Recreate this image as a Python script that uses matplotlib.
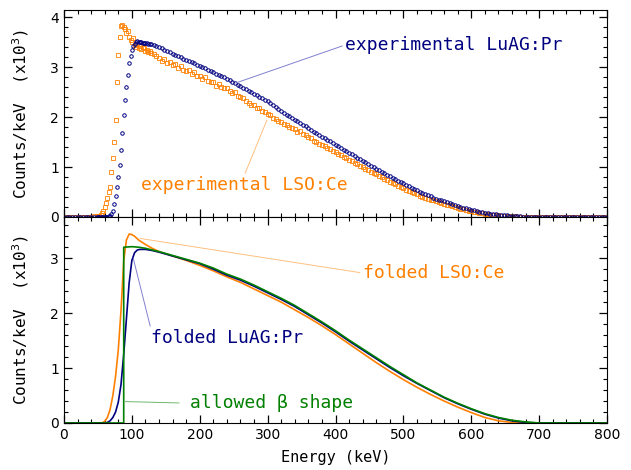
import numpy as np
import matplotlib
matplotlib.use("Agg")
import matplotlib.pyplot as plt
from matplotlib.ticker import MultipleLocator

# ---- experimental spectra (counts/keV x10^3) ----
# energy bins: 4 keV below 50, 2 keV from 50 to 128, 4 keV above
energy_exp = np.concatenate([np.arange(0, 49, 4), np.arange(50, 129, 2), np.arange(132, 801, 4)])

luag_exp = [
    0, 0, 0, 0, 0, 0, 0, 0, 0, 0, 0, 0, 0,
    # 50 .. 128 (2 keV)
    0, 0, 0, 0, 0, 0, 0, 0, 0.01, 0.02,
    0.05, 0.12, 0.25, 0.42, 0.60, 0.80, 1.05, 1.35, 1.68, 2.05,
    2.34, 2.60, 2.85, 3.08, 3.22, 3.34, 3.42, 3.47, 3.51, 3.52,
    3.51, 3.50, 3.50, 3.49, 3.49, 3.48, 3.48, 3.47, 3.47, 3.46,
    # 132 .. 800 (4 keV)
    3.44, 3.42, 3.41, 3.38, 3.35, 3.33, 3.30, 3.27,
    3.25, 3.22, 3.20, 3.17, 3.15, 3.13, 3.10, 3.08,
    3.05, 3.03, 3.00, 2.98, 2.95, 2.93, 2.90, 2.87,
    2.85, 2.82, 2.80, 2.77, 2.74, 2.71, 2.68, 2.65,
    2.62, 2.59, 2.56, 2.53, 2.50, 2.47, 2.44, 2.41,
    2.38, 2.35, 2.32, 2.28, 2.24, 2.20, 2.16, 2.12,
    2.09, 2.05, 2.02, 1.98, 1.95, 1.92, 1.88, 1.85,
    1.82, 1.78, 1.75, 1.71, 1.68, 1.65, 1.61, 1.58,
    1.55, 1.52, 1.48, 1.45, 1.42, 1.38, 1.35, 1.32,
    1.29, 1.26, 1.22, 1.19, 1.16, 1.13, 1.10, 1.06,
    1.03, 1.00, 0.97, 0.94, 0.91, 0.88, 0.85, 0.82,
    0.79, 0.76, 0.73, 0.70, 0.68, 0.65, 0.62, 0.59,
    0.56, 0.54, 0.51, 0.49, 0.46, 0.44, 0.42, 0.39,
    0.37, 0.35, 0.33, 0.31, 0.29, 0.27, 0.25, 0.23,
    0.22, 0.20, 0.18, 0.17, 0.15, 0.14, 0.13, 0.12,
    0.10, 0.09, 0.08, 0.07, 0.065, 0.06, 0.05, 0.045,
    0.04, 0.035, 0.03, 0.025, 0.02, 0.015, 0.012, 0.01,
    0.008, 0.005, 0.004, 0.003, 0.002, 0.001, 0, 0,
    0, 0, 0, 0, 0, 0, 0, 0,
    0, 0, 0, 0, 0, 0, 0, 0,
    0, 0, 0, 0, 0, 0, 0, 0,
]

lso_exp = [
    0, 0, 0, 0, 0, 0, 0, 0, 0, 0, 0, 0.01, 0.01,
    # 50 .. 128 (2 keV)
    0.01, 0.02, 0.04, 0.07, 0.12, 0.20, 0.28, 0.38, 0.50, 0.60,
    0.90, 1.18, 1.50, 1.95, 2.70, 3.24, 3.60, 3.82, 3.85, 3.80,
    3.76, 3.68, 3.72, 3.60, 3.55, 3.50, 3.58, 3.44, 3.40, 3.47,
    3.38, 3.42, 3.36, 3.40, 3.39, 3.33, 3.35, 3.31, 3.32, 3.28,
    # 132 .. 800 (4 keV)
    3.26, 3.22, 3.19, 3.12, 3.16, 3.09, 3.10, 3.05,
    3.06, 2.99, 3.02, 2.95, 2.93, 2.94, 2.87, 2.90,
    2.82, 2.83, 2.76, 2.80, 2.73, 2.70, 2.71, 2.63,
    2.67, 2.60, 2.58, 2.59, 2.52, 2.49, 2.50, 2.43,
    2.40, 2.38, 2.33, 2.28, 2.25, 2.24, 2.19, 2.18,
    2.12, 2.10, 2.06, 2.04, 1.98, 1.97, 1.93, 1.90,
    1.86, 1.85, 1.80, 1.78, 1.76, 1.70, 1.72, 1.66,
    1.64, 1.60, 1.58, 1.52, 1.51, 1.47, 1.45, 1.42,
    1.38, 1.36, 1.33, 1.30, 1.27, 1.24, 1.20, 1.18,
    1.14, 1.12, 1.08, 1.06, 1.02, 1.00, 0.96, 0.95,
    0.90, 0.88, 0.86, 0.82, 0.80, 0.77, 0.75, 0.71,
    0.69, 0.66, 0.63, 0.60, 0.58, 0.55, 0.53, 0.50,
    0.48, 0.46, 0.43, 0.41, 0.39, 0.37, 0.35, 0.33,
    0.31, 0.29, 0.28, 0.26, 0.24, 0.23, 0.21, 0.19,
    0.18, 0.16, 0.15, 0.13, 0.12, 0.11, 0.10, 0.09,
    0.08, 0.07, 0.06, 0.05, 0.045, 0.04, 0.035, 0.03,
    0.025, 0.02, 0.018, 0.015, 0.012, 0.01, 0.008, 0.006,
    0.005, 0.004, 0.003, 0.002, 0.001, 0, 0, 0,
    0, 0, 0, 0, 0, 0, 0, 0,
    0, 0, 0, 0, 0, 0, 0, 0,
    0, 0, 0, 0, 0, 0, 0, 0,
]

assert len(luag_exp) == len(energy_exp) and len(lso_exp) == len(energy_exp)

# ---- folded / calculated spectra ----
lso_fold_e = [0, 56, 60, 64, 68, 72, 76, 80, 84, 88, 92, 96, 100, 104, 110, 120, 130, 140,
              160, 180, 200, 220, 240, 260, 280, 300, 320, 340, 360, 380, 400, 420, 440,
              460, 480, 500, 520, 540, 560, 580, 600, 620, 640, 660, 680, 800]
lso_fold = [0, 0, 0.03, 0.10, 0.25, 0.50, 0.85, 1.33, 2.05, 2.95, 3.33, 3.44, 3.43, 3.40, 3.33,
            3.25, 3.18, 3.12, 3.04, 2.96, 2.87, 2.77, 2.66, 2.56, 2.44, 2.32, 2.20, 2.06, 1.92,
            1.77, 1.61, 1.44, 1.27, 1.10, 0.94, 0.79, 0.65, 0.52, 0.40, 0.29, 0.19, 0.10, 0.04,
            0.01, 0, 0]

luag_fold_e = [0, 60, 64, 68, 72, 76, 80, 84, 88, 92, 96, 100, 104, 108, 112, 120, 130, 140,
               160, 180, 200, 220, 240, 260, 280, 300, 320, 340, 360, 380, 400, 420, 440, 460,
               480, 500, 520, 540, 560, 580, 600, 620, 640, 660, 680, 700, 800]
luag_fold = [0, 0, 0.01, 0.04, 0.10, 0.20, 0.38, 0.70, 1.25, 1.90, 2.55, 2.96, 3.10, 3.15, 3.16,
             3.16, 3.14, 3.11, 3.04, 2.97, 2.90, 2.80, 2.69, 2.60, 2.49, 2.37, 2.25, 2.12, 1.97,
             1.82, 1.66, 1.49, 1.33, 1.17, 1.01, 0.86, 0.72, 0.59, 0.46, 0.35, 0.25, 0.16, 0.09,
             0.04, 0.01, 0, 0]

beta_e = [0, 88, 88, 100, 110, 120, 130, 140, 160, 180, 200, 220, 240, 260, 280, 300, 320, 340,
          360, 380, 400, 420, 440, 460, 480, 500, 520, 540, 560, 580, 600, 620, 640, 660, 680,
          700, 800]
beta = [0, 0, 3.20, 3.21, 3.20, 3.18, 3.15, 3.12, 3.05, 2.98, 2.91, 2.82, 2.71, 2.62, 2.51, 2.39,
        2.27, 2.14, 1.99, 1.84, 1.68, 1.51, 1.35, 1.19, 1.03, 0.88, 0.73, 0.60, 0.47, 0.36, 0.26,
        0.17, 0.10, 0.05, 0.02, 0, 0]

navy = '#000080'
orange = '#ff8000'
green = '#008000'
mono = 'DejaVu Sans Mono'

fig = plt.figure(figsize=(6.31, 4.70), dpi=100)
ax1 = fig.add_axes([0.1014, 0.5383, 0.8606, 0.4404])
ax2 = fig.add_axes([0.1014, 0.1, 0.8606, 0.4383], sharex=ax1)

# top panel: experimental points
ax1.plot(energy_exp, lso_exp, ls='none', marker='s', ms=2.5, mfc='none', mec=orange, mew=0.6)
ax1.plot(energy_exp, luag_exp, ls='none', marker='o', ms=2.5, mfc='none', mec=navy, mew=0.7)
ax1.set_ylim(0, 4.14)

ax1.annotate('experimental LuAG:Pr', xy=(253, 2.68), xytext=(414, 3.44), color=navy,
             fontsize=13, family=mono, ha='left', va='center',
             arrowprops=dict(arrowstyle='-', color='#8080d0', lw=0.7, shrinkA=0, shrinkB=0,
                             relpos=(0, 0.5)))
ax1.annotate('experimental LSO:Ce', xy=(299, 1.94), xytext=(113, 0.64), color=orange,
             fontsize=13, family=mono, ha='left', va='center',
             arrowprops=dict(arrowstyle='-', color='#ffc080', lw=0.7, shrinkA=0, shrinkB=0,
                             relpos=(0.5, 1)))

# bottom panel: folded curves
ax2.plot(lso_fold_e, lso_fold, color=orange, lw=1.2)
ax2.plot(luag_fold_e, luag_fold, color=navy, lw=1.2)
ax2.plot(beta_e, beta, color=green, lw=1.2)
ax2.set_ylim(0, 3.75)

ax2.annotate('folded LSO:Ce', xy=(112, 3.36), xytext=(440, 2.73), color=orange,
             fontsize=13, family=mono, ha='left', va='center',
             arrowprops=dict(arrowstyle='-', color='#ffc080', lw=0.7, shrinkA=0, shrinkB=0,
                             relpos=(0, 0.5)))
ax2.annotate('folded LuAG:Pr', xy=(102, 3.0), xytext=(128, 1.55), color=navy,
             fontsize=13, family=mono, ha='left', va='center',
             arrowprops=dict(arrowstyle='-', color='#8080d0', lw=0.7, shrinkA=0, shrinkB=0,
                             relpos=(0, 1)))
ax2.annotate('allowed \u03b2 shape', xy=(90, 0.39), xytext=(186, 0.36), color=green,
             fontsize=13, family=mono, ha='left', va='center',
             arrowprops=dict(arrowstyle='-', color='#70b870', lw=0.7, shrinkA=6, shrinkB=0,
                             relpos=(0, 0.5)))

ax2.set_xlim(0, 800)
ax2.xaxis.set_major_locator(MultipleLocator(100))
ax2.xaxis.set_minor_locator(MultipleLocator(20))
for ax in (ax1, ax2):
    ax.yaxis.set_major_locator(MultipleLocator(1))
    ax.yaxis.set_minor_locator(MultipleLocator(0.2))
    ax.tick_params(which='both', direction='in', top=True, right=True, labelsize=10)
    ax.tick_params(which='major', length=6, width=0.9)
    ax.tick_params(which='minor', length=3, width=0.8)
    ax.set_ylabel('Counts/keV  (x10$^3$)', family=mono, fontsize=11.5, labelpad=14)
ax1.tick_params(labelbottom=False)
ax2.set_xlabel('Energy (keV)', family=mono, fontsize=11, labelpad=6)

fig.savefig('out.png', dpi=100)
